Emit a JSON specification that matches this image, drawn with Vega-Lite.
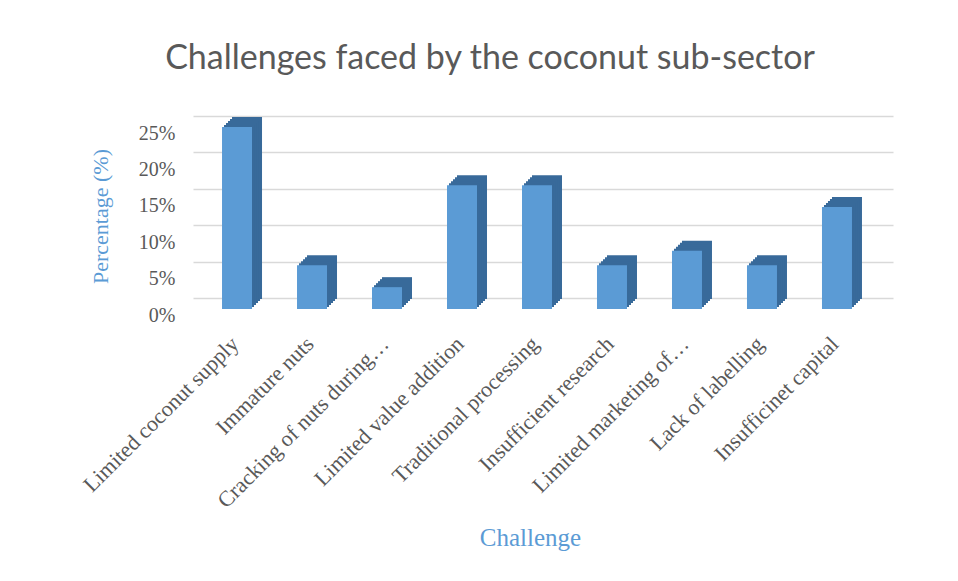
{
  "$schema": "https://vega.github.io/schema/vega-lite/v6.json",
  "autosize": "none",
  "width": 700,
  "height": 182,
  "padding": {"left": 193, "top": 116, "right": 65, "bottom": 283},
  "background": "white",
  "title": {
    "text": "Challenges faced by the coconut sub-sector",
    "font": "Lato",
    "fontSize": 34,
    "fontWeight": "normal",
    "color": "#595959",
    "anchor": "middle",
    "frame": "group",
    "dx": -53,
    "offset": 40
  },
  "config": {
    "view": {"stroke": null},
    "axis": {"labelFont": "Liberation Serif", "titleFont": "Liberation Serif"}
  },
  "data": {
    "values": [
      {"challenge": "Limited coconut supply", "pct": 0.25},
      {"challenge": "Immature nuts", "pct": 0.06},
      {"challenge": "Cracking of nuts during…", "pct": 0.03},
      {"challenge": "Limited value addition", "pct": 0.17},
      {"challenge": "Traditional processing", "pct": 0.17},
      {"challenge": "Insufficient research", "pct": 0.06},
      {"challenge": "Limited marketing of…", "pct": 0.08},
      {"challenge": "Lack of labelling", "pct": 0.06},
      {"challenge": "Insufficinet capital", "pct": 0.14}
    ]
  },
  "encoding": {
    "x": {
      "field": "challenge",
      "type": "nominal",
      "sort": null,
      "scale": {"paddingInner": 0.6, "paddingOuter": 0.467},
      "axis": {
        "title": "Challenge",
        "titleColor": "#5b9bd5",
        "titleFontSize": 25,
        "titleFontWeight": "normal",
        "titleBaseline": "middle",
        "titleAlign": "center",
        "titleX": 337,
        "titleY": 239,
        "labelAngle": -45,
        "labelAlign": "right",
        "labelBaseline": "middle",
        "labelFontSize": 22,
        "labelColor": "#595959",
        "labelPadding": 42,
        "labelOffset": -8,
        "labelLimit": 300,
        "domain": false,
        "ticks": false
      }
    },
    "y": {
      "field": "pct",
      "type": "quantitative",
      "scale": {"domain": [0, 0.25]},
      "axis": {
        "title": "Percentage (%)",
        "titleColor": "#5b9bd5",
        "titleFontSize": 22,
        "titleFontWeight": "normal",
        "titleAngle": 270,
        "titleAlign": "center",
        "titleBaseline": "middle",
        "titleX": -93,
        "titleY": 100,
        "format": ".0%",
        "values": [0, 0.05, 0.1, 0.15, 0.2, 0.25],
        "labelFontSize": 20,
        "labelColor": "#595959",
        "labelPadding": 18,
        "labelOffset": 17,
        "domain": false,
        "ticks": false,
        "grid": true,
        "gridColor": "#d9d9d9",
        "gridWidth": 1.5
      }
    }
  },
  "layer": [
    {"mark": {"type": "bar", "color": "#386a9a", "xOffset": 4, "x2Offset": 4, "yOffset": 1, "y2Offset": 1}},
    {"mark": {"type": "bar", "color": "#386a9a", "xOffset": 2, "x2Offset": 2, "yOffset": 3, "y2Offset": 3}},
    {"mark": {"type": "bar", "color": "#386a9a", "xOffset": 0, "x2Offset": 0, "yOffset": 5, "y2Offset": 5}},
    {"mark": {"type": "bar", "color": "#386a9a", "xOffset": -2, "x2Offset": -2, "yOffset": 7, "y2Offset": 7}},
    {"mark": {"type": "bar", "color": "#386a9a", "xOffset": -4, "x2Offset": -4, "yOffset": 9, "y2Offset": 9}},
    {"mark": {"type": "bar", "color": "#5b9bd5", "xOffset": -6, "x2Offset": -6, "yOffset": 11, "y2Offset": 11}}
  ]
}
